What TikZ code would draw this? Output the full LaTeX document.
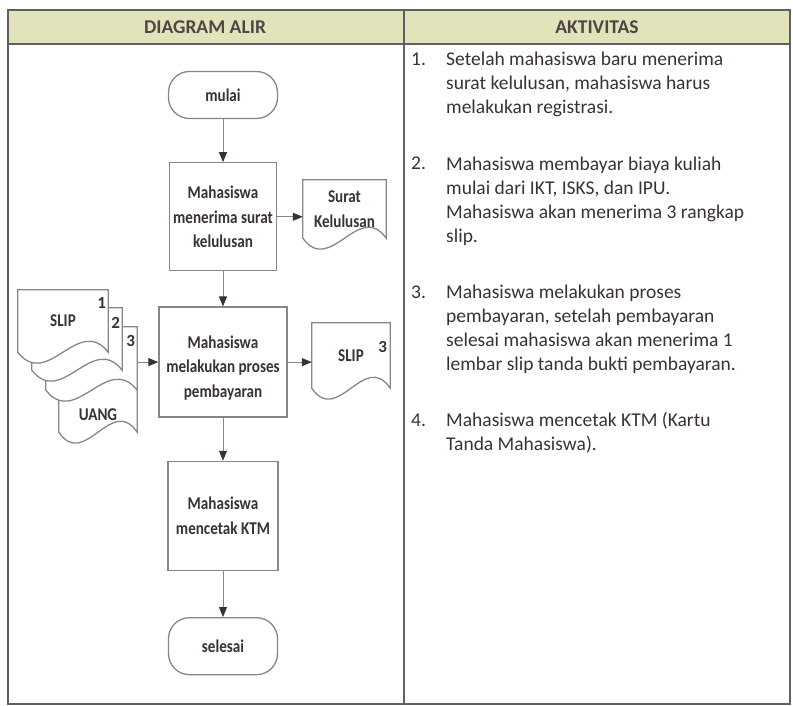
\documentclass[tikz,border=0pt]{standalone}
\usepackage{fontspec}
\setmainfont{Carlito}
\newfontfamily\flowfont[FakeStretch=0.84]{Carlito}
\usetikzlibrary{positioning,calc,backgrounds,arrows.meta}
\usepackage{xcolor}
\definecolor{headkhaki}{RGB}{226,227,186}
\definecolor{rulegrey}{RGB}{96,96,96}
\definecolor{boxgrey}{RGB}{135,135,135}
\definecolor{inkdark}{RGB}{58,50,50}

% outline of a document symbol round a node (wavy bottom)
\newcommand{\docpath}[2][38]{%
  \draw[docline] (#2.north west) -- (#2.north east) -- (#2.south east)
    .. controls ($(#2.south east)!0.33!(#2.south west)+(0,-#1)$)
    and ($(#2.south east)!0.67!(#2.south west)+(0,#1)$) .. (#2.south west) -- cycle;}

\begin{document}
\begin{tikzpicture}[x=1pt, y=-1pt,
    flowfont/.style={font=\flowfont\bfseries\fontsize{18}{24.5}\selectfont, text=inkdark},
    terminal/.style={rectangle, rounded corners=21pt, draw=boxgrey, line width=1.3pt,
                     fill=white, minimum width=109pt, align=center, flowfont},
    procbox/.style={rectangle, draw=boxgrey, line width=1.3pt, fill=white,
                    align=center, flowfont},
    docbox/.style={rectangle, inner sep=0pt, align=center, flowfont},
    docline/.style={draw=boxgrey, line width=1.3pt, fill=white},
    numtag/.style={anchor=north east, inner sep=0pt, text=inkdark,
                   font=\bfseries\fontsize{17}{17}\selectfont},
    flowarrow/.style={draw=boxgrey, line width=1pt,
                      -{Triangle[length=10pt, width=8pt, color=inkdark]}},
    headtext/.style={font=\bfseries\fontsize{19.5}{22}\selectfont, text=inkdark!90},
    itemnum/.style={anchor=north west, inner sep=0pt, text=inkdark,
                    font=\fontsize{19.5}{24}\selectfont},
    itemtext/.style={anchor=north west, inner sep=0pt, align=left, text=inkdark,
                     font=\fontsize{19.5}{24}\selectfont}
]
\useasboundingbox (0,0) rectangle (793,706);

% table frame
\fill[headkhaki] (8,10) rectangle (790,44);
\draw[rulegrey, line width=1.6pt] (8,10) rectangle (790,704);
\draw[rulegrey, line width=1.6pt] (8,44) -- (790,44);
\draw[rulegrey, line width=1.6pt] (404,10) -- (404,704);
\node[headtext] (hflow) at (205,27) {DIAGRAM ALIR};
\node[headtext] (hact) at (597,27) {AKTIVITAS};

% main column
\node[terminal, minimum height=47pt] (start) at (223,95) {mulai};
\node[procbox, minimum width=106pt, minimum height=108pt, below=43pt of start] (recv)
     {Mahasiswa\\menerima surat\\kelulusan};
\node[procbox, minimum width=128pt, minimum height=110pt, below=35pt of recv] (pay)
     {\mbox{}\\Mahasiswa\\melakukan proses\\pembayaran};
\node[procbox, minimum width=110pt, minimum height=109pt, below=43pt of pay] (print)
     {Mahasiswa\\mencetak KTM};
\node[terminal, minimum height=57pt, below=46pt of print] (stop) {selesai};

% documents
\node[docbox, minimum width=83pt, minimum height=58pt] (letter) at (344.5,209) {Surat\\Kelulusan};
\node[docbox, minimum width=78pt, minimum height=65pt] (slipout) at (351,355.5) {SLIP};
\node[docbox, minimum width=78pt, minimum height=62pt] (cash) at (98,401) {};
\node[docbox, minimum width=91pt, minimum height=63pt] (slipC) at (91.5,358.5) {};
\node[docbox, minimum width=90pt, minimum height=62pt] (slipB) at (77,339) {};
\node[docbox, minimum width=90pt, minimum height=62pt] (slipA) at (63,321) {SLIP};
\node[docbox, yshift=-14pt] (cashtext) at (cash) {UANG};
\node[numtag, xshift=-2pt, yshift=-7pt] (tagA) at (slipA.north east) {1};
\node[numtag, xshift=-2pt, yshift=-9pt] (tagB) at (slipB.north east) {2};
\node[numtag, xshift=-2pt, yshift=-8pt] (tagC) at (slipC.north east) {3};
\node[numtag, xshift=-3pt, yshift=-18pt] (tagout) at (slipout.north east) {3};

\begin{scope}[on background layer]
  \docpath{letter}
  \docpath{slipout}
  \docpath{cash}
  \docpath{slipC}
  \docpath{slipB}
  \docpath{slipA}
\end{scope}

% connectors
\draw[flowarrow] (start.south) -- (start.south |- recv.north);
\draw[flowarrow] (recv.south) -- (recv.south |- pay.north);
\draw[flowarrow] (pay.south) -- (pay.south |- print.north);
\draw[flowarrow] (print.south) -- (print.south |- stop.north);
\draw[flowarrow] (recv.east) -- (recv.east -| letter.west);
\draw[flowarrow] (pay.east) -- (pay.east -| slipout.west);
\draw[flowarrow] (slipC.east |- pay.west) -- (pay.west);

% activities
\node[itemnum] (n1) at (411,49) {\strut 1.};
\node[itemtext] (t1) at (446,49) {\strut Setelah mahasiswa baru menerima\\surat kelulusan, mahasiswa harus\\melakukan registrasi.};
\node[itemnum] (n2) at (411,153) {\strut 2.};
\node[itemtext] (t2) at (446,153) {\strut Mahasiswa membayar biaya kuliah\\mulai dari IKT, ISKS, dan IPU.\\Mahasiswa akan menerima 3 rangkap\\slip.};
\node[itemnum] (n3) at (411,281) {\strut 3.};
\node[itemtext] (t3) at (446,281) {\strut Mahasiswa melakukan proses\\pembayaran, setelah pembayaran\\selesai mahasiswa akan menerima 1\\lembar slip tanda bukti pembayaran.};
\node[itemnum] (n4) at (411,409) {\strut 4.};
\node[itemtext] (t4) at (446,409) {\strut Mahasiswa mencetak KTM (Kartu\\Tanda Mahasiswa).};
\end{tikzpicture}
\end{document}
